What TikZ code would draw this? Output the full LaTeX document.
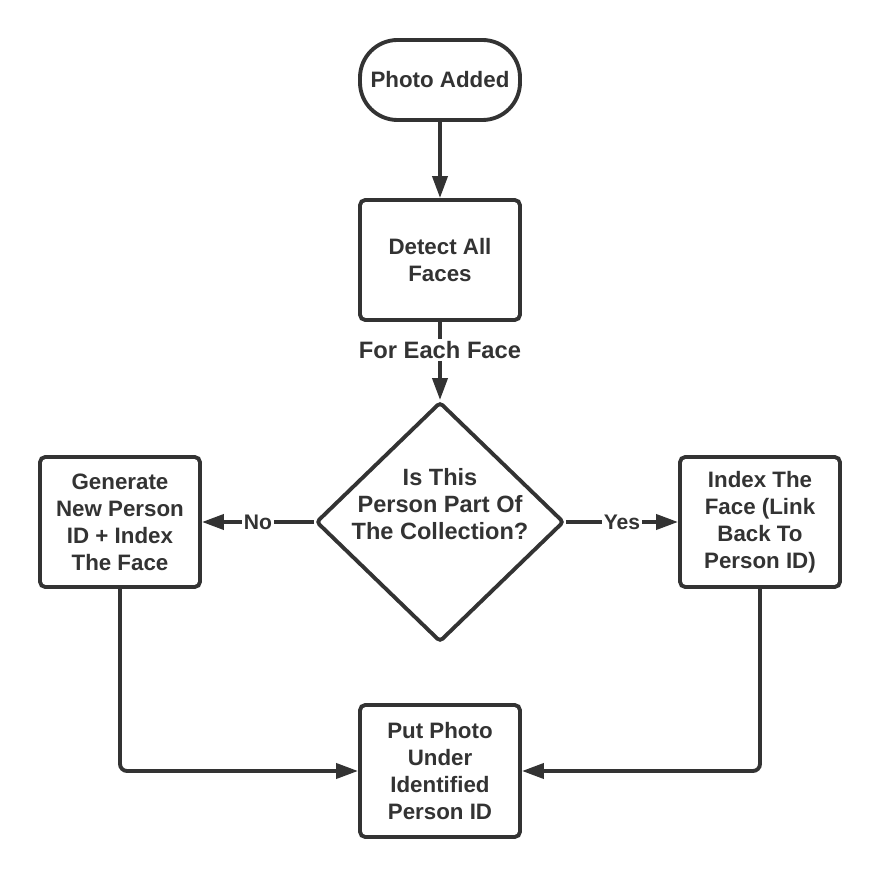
\documentclass[tikz,border=0pt]{standalone}
\usepackage{fontspec}
\setmainfont{Liberation Sans}
\usetikzlibrary{arrows.meta,positioning,shapes.geometric}
\definecolor{ink}{HTML}{333333}

\begin{document}
\begin{tikzpicture}[
    box/.style={draw=ink, line width=2.2pt, rounded corners=3pt, fill=white, minimum width=3.2cm, align=center, text=ink, font=\fontsize{12.7}{15.3}\selectfont\bfseries, inner sep=2pt},
    term/.style={box, rounded corners=0.75cm, minimum height=1.6cm},
    decision/.style={draw=ink, line width=2.2pt, diamond, rounded corners=2pt, minimum width=4.96cm, minimum height=4.8cm, inner sep=0pt},
    flow/.style={draw=ink, line width=2.2pt, -{Triangle[length=0.44cm,width=0.3cm]}},
    tag/.style={text=ink, font=\fontsize{12}{15.4}\selectfont\bfseries, fill=white, inner sep=1pt},
]
\useasboundingbox (0,0) rectangle (17.6,-17.56);
\node[term] (added) at (8.8, -1.6) {Photo Added};
\node[box, minimum height=2.4cm] (detect) at (8.8, -5.2) {Detect All\\Faces};
\node[tag, font=\fontsize{13.5}{15.6}\selectfont\bfseries] (each) at (8.8, -7.0) {For Each Face};
\node[decision] (check) at (8.8, -10.44) {};
\node[tag, fill=none, align=center, font=\fontsize{13.4}{15.6}\selectfont\bfseries] (question) at ([yshift=0.36cm]check.center) {Is This\\Person Part Of\\The Collection?};
\node[box, minimum height=2.6cm] (newid) at (2.4, -10.44) {Generate\\New Person\\ID + Index\\The Face};
\node[box, minimum height=2.6cm] (index) at (15.2, -10.44) {Index The\\Face (Link\\Back To\\Person ID)};
\node[box, minimum height=2.64cm] (put) at (8.8, -15.42) {Put Photo\\Under\\Identified\\Person ID};

\draw[flow] (added) -- (detect);
\draw[draw=ink, line width=2.2pt] (detect) -- (each);
\draw[flow] (each) -- (check);
\draw[flow] (check.west) -- node[tag] (no) {No} (newid.east);
\draw[flow] (check.east) -- node[tag] (yes) {Yes} (index.west);
\draw[flow, rounded corners=4pt] (newid.south) |- (put.west);
\draw[flow, rounded corners=4pt] (index.south) |- (put.east);
\end{tikzpicture}
\end{document}
